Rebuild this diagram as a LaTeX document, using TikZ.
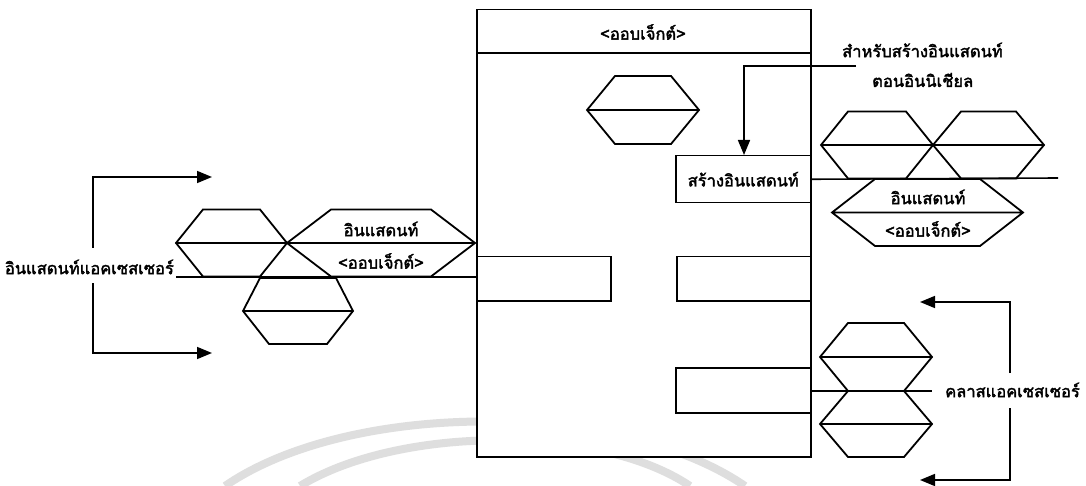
\documentclass[tikz,border=0pt]{standalone}
\usepackage{fontspec}
\newfontfamily\thai[Script=Thai,FakeBold=2.2]{Loma}
\usetikzlibrary{arrows.meta}

% hexagon cell: centre x, centre y, half width, top inset, bottom inset, half height
\newcommand\hexcell[6]{%
  \draw[hexline] ({#1-#3},{#2}) -- ({#1-#3+#4},{#2-#6}) -- ({#1+#3-#4},{#2-#6})
    -- ({#1+#3},{#2}) -- ({#1+#3-#5},{#2+#6}) -- ({#1-#3+#5},{#2+#6}) -- cycle
    ({#1-#3},{#2}) -- ({#1+#3},{#2});}

\begin{document}
\begin{tikzpicture}[x=1pt,y=-1pt,
  hexline/.style={line width=1.8pt,line join=miter},
  boxline/.style={line width=1.5pt},
  conn/.style={line width=1.6pt},
  arr/.style={conn,-{Triangle[length=15pt,width=12pt]}},
  lbl/.style={font=\thai\fontsize{16.5}{18}\selectfont,inner sep=0pt},
  bgarc/.style={line width=8pt,draw=black!13,line cap=butt}]
\useasboundingbox[fill=white] (0,0) rectangle (1086,486);

% faint arcs in the background
\draw[bgarc] (225,486) .. controls (350,400) and (620,400) .. (745,486);
\draw[bgarc] (300,486) .. controls (400,425) and (600,425) .. (690,486);

% object frame with its header
\node[draw,boxline,fill=white,minimum width=334pt,minimum height=447pt,inner sep=0pt,anchor=north west] (obj) at (476,9) {};
\coordinate (hdrL) at (476,53);
\coordinate (hdrR) at (810,53);
\draw[boxline] (hdrL) -- (hdrR);
\node[lbl] (hdr) at (643,32) {<ออบเจ็กต์>};

% member boxes inside the frame
\node[draw,boxline,minimum width=135pt,minimum height=47pt,inner sep=0pt,anchor=north west] (create) at (675,155) {};
\node[lbl] at (create.center) {สร้างอินแสดนท์};
\node[draw,boxline,minimum width=134pt,minimum height=44pt,inner sep=0pt,anchor=north west] (slotL) at (476,256) {};
\node[draw,boxline,minimum width=134pt,minimum height=44pt,inner sep=0pt,anchor=north west] (slotR) at (676,256) {};
\node[draw,boxline,minimum width=135pt,minimum height=45pt,inner sep=0pt,anchor=north west] (slotB) at (675,367) {};

% hexagon cells
\hexcell{643}{110}{56}{28}{28}{34}
\hexcell{231.5}{243}{55.5}{27}{27}{33.5}
\hexcell{381}{243}{94}{44}{44}{33.5}
\hexcell{298}{311}{55}{17}{26}{33}
\hexcell{877}{145}{56}{27}{27}{33.5}
\hexcell{988.5}{145}{55.5}{28}{28}{33.5}
\hexcell{927.5}{212.5}{95.5}{43}{43}{33.5}
\hexcell{876}{357}{56}{28}{28}{34}
\hexcell{876}{424}{56}{28}{28}{33}

% texts in the wide cells
\node[lbl] (instA) at (381,229) {อินแสดนท์};
\node[lbl] (objA) at (381,261) {<ออบเจ็กต์>};
\node[lbl] (instB) at (928,197) {อินแสดนท์};
\node[lbl] (objB) at (928,229) {<ออบเจ็กต์>};

% instance accessor (left)
\node[lbl,anchor=east] (instAcc) at (174,267) {อินแสดนท์แอคเซสเซอร์};
\coordinate (accEnd) at (obj.west |- 0,277);
\draw[conn] (instAcc.east |- accEnd) ++(2,0) -- (accEnd);
\coordinate (lbTop) at (93,177);
\coordinate (lbBot) at (93,353);
\coordinate (lbTopTip) at (212,177);
\coordinate (lbBotTip) at (212,353);
\draw[arr] (93,248) -- (lbTop) -- (lbTopTip);
\draw[arr] (93,283) -- (lbBot) -- (lbBotTip);

% constructor note with its arrow
\node[lbl,anchor=west] (noteA) at (842,50) {สำหรับสร้างอินแสดนท์};
\node[lbl,anchor=west] (noteB) at (872,80) {ตอนอินนิเชียล};
\coordinate (noteEnd) at (856,66);
\draw[arr] (noteEnd) -- (744,66) -- (create.north -| 744,0);
\coordinate (createEnd) at (1058,178);
\draw[conn] (create.east) -- (createEnd);

% class accessor (right)
\node[lbl,anchor=west] (classAcc) at (945,390) {คลาสแอคเซสเซอร์};
\draw[conn] (obj.east |- 0,391) -- (932,391);
\coordinate (rbTop) at (1010,302);
\coordinate (rbBot) at (1010,480);
\coordinate (rbTopTip) at (920,302);
\coordinate (rbBotTip) at (920,480);
\draw[arr] (1010,373) -- (rbTop) -- (rbTopTip);
\draw[arr] (1010,408) -- (rbBot) -- (rbBotTip);
\end{tikzpicture}
\end{document}
